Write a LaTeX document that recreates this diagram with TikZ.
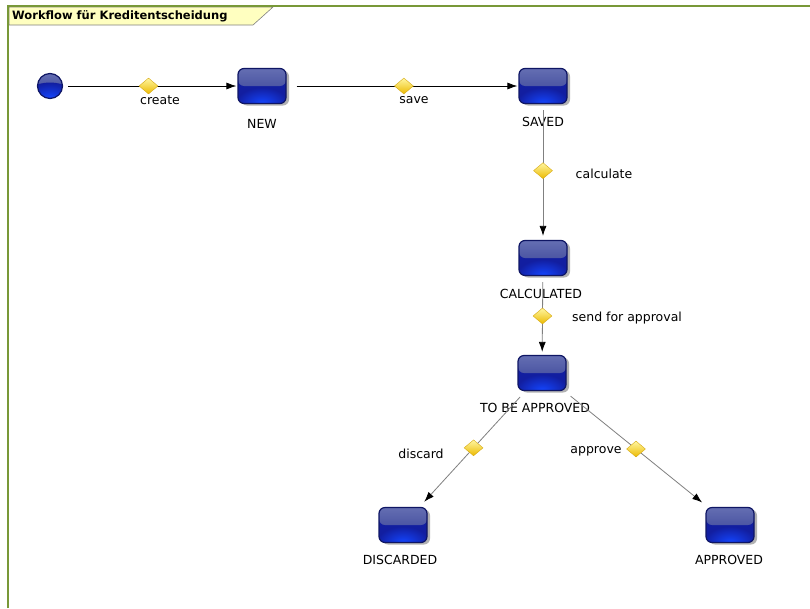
\documentclass[tikz,border=0pt]{standalone}
\usepackage{fontspec}
\setmainfont{DejaVu Sans}
\usetikzlibrary{shapes.geometric,shadows,arrows.meta}
\definecolor{framegreen}{RGB}{120,152,56}
\definecolor{tabfill}{RGB}{255,255,192}
\definecolor{boxline}{RGB}{15,22,100}
\definecolor{glosstop}{RGB}{100,110,178}
\definecolor{glossmid}{RGB}{52,62,148}
\definecolor{lowdark}{RGB}{18,30,160}
\definecolor{lowglow}{RGB}{20,70,255}
\definecolor{diatop}{RGB}{255,246,160}
\definecolor{diabot}{RGB}{236,186,0}
\definecolor{diaborder}{RGB}{215,170,20}
\definecolor{edgegray}{RGB}{128,128,128}
\begin{document}
\begin{tikzpicture}[x=1pt,y=-1pt,
  gloss/.style={fill=lowdark, path picture={
      \shade[top color=glosstop, bottom color=glossmid]
        (path picture bounding box.north west) rectangle (path picture bounding box.east);
      \shade[inner color=lowglow, outer color=lowdark]
        (path picture bounding box.south) ellipse [x radius=26pt, y radius=16pt];
    }},
  statebox/.style={rectangle, rounded corners=6pt, minimum width=48pt, minimum height=35pt,
    inner sep=0pt, draw=boxline, line width=1.2pt, gloss,
    drop shadow={shadow xshift=3pt, shadow yshift=-2pt, opacity=0.3, fill=black}},
  startdot/.style={circle, minimum size=25pt, inner sep=0pt, draw=boxline, line width=1.2pt,
    gloss},
  dia/.style={diamond, minimum width=19pt, minimum height=16pt, inner sep=0pt,
    top color=diatop, bottom color=diabot, draw=diaborder, line width=0.4pt},
  flow/.style={draw=black, line width=0.8pt, -{Latex[length=10pt,width=7pt,color=black]}},
  flowgray/.style={flow, draw=edgegray},
  lbl/.style={font=\fontsize{12.5}{14}\selectfont, inner sep=0pt, text=black},
  titlelbl/.style={font=\bfseries\fontsize{11.5}{13}\selectfont, inner sep=0pt, anchor=west}
]
\useasboundingbox (0,0) rectangle (810,608);
\fill[white] (0,0) rectangle (810,608);

% frame and title tab
\filldraw[fill=tabfill, draw=gray, line width=0.6pt] (9,7) -- (273,7) -- (253,25) -- (9,25) -- cycle;
\draw[framegreen, line width=2pt] (8,608) -- (8,6) -- (810,6);
\node[titlelbl] (title) at (12,16) {Workflow für Kreditentscheidung};

% states
\node[startdot] (start) at (50,86) {};
\node[statebox] (new) at (262,86) {};
\node[statebox] (saved) at (543,86) {};
\node[statebox] (calc) at (543,258) {};
\node[statebox] (tba) at (542,373) {};
\node[statebox] (disc) at (403,525) {};
\node[statebox] (appr) at (730,525) {};

% state labels
\node[lbl] (lnew) at (262,124) {NEW};
\node[lbl] (lsaved) at (543,122) {SAVED};
\node[lbl] (lcalc) at (541,294) {CALCULATED};
\node[lbl] (ltba) at (535,408) {TO BE APPROVED};
\node[lbl] (ldisc) at (400,560) {DISCARDED};
\node[lbl] (lappr) at (729,560) {APPROVED};

% transitions
\draw[flow, shorten <=5pt, shorten >=1pt] (start) -- node[dia, pos=0.49] (d1) {} (new);
\draw[flow, shorten <=10pt, shorten >=1pt] (new) -- node[dia, pos=0.506] (d2) {} (saved);
\draw[flowgray, shorten <=6pt, shorten >=4pt] (saved) -- node[dia, pos=0.49] (d3) {} (calc);
\draw[flowgray, shorten <=6pt, shorten >=3pt] (calc) -- node[dia, pos=0.506] (d4) {} (tba);
\draw[flowgray, shorten <=8pt, shorten >=7pt] (tba) -- node[dia, pos=0.49] (d5) {} (disc);
\draw[flowgray, shorten <=8pt, shorten >=7pt] (tba) -- node[dia, pos=0.5] (d6) {} (appr);

% transition labels
\node[lbl] (tcreate) at (160,100) {create};
\node[lbl] (tsave) at (414,100) {save};
\node[lbl] (tcalc) at (604,174) {calculate};
\node[lbl] (tsend) at (627,318) {send for approval};
\node[lbl] (tdisc) at (421,454) {discard};
\node[lbl] (tappr) at (596,451) {approve};
\end{tikzpicture}
\end{document}
